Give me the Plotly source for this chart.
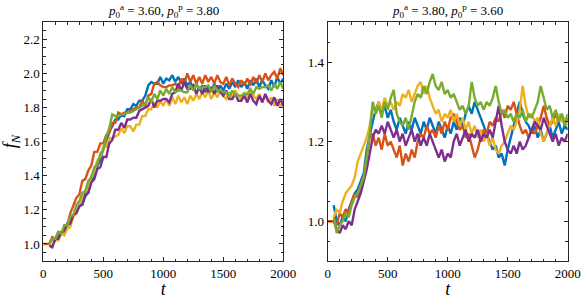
import plotly.graph_objects as go

# time grid (t = 0, then 50..2000 step 25)
t = [0] + list(range(50, 2001, 25))

series_names = ["run 1", "run 2", "run 3", "run 4", "run 5"]
colors = ["#0072BD", "#D95319", "#EDB120", "#7E2F8E", "#77AC30"]

# Left panel: p0a = 3.60, p0p = 3.80
left_blue = [None,
    1.00, 1.03, 1.02, 1.05, 1.07, 1.07, 1.11, 1.12, 1.17, 1.18,
    1.23, 1.23, 1.28, 1.30, 1.37, 1.39, 1.46, 1.49, 1.56, 1.59,
    1.66, 1.69, 1.73, 1.73, 1.76, 1.75, 1.79, 1.79, 1.82, 1.81,
    1.84, 1.84, 1.87, 1.93, 1.95, 1.94, 1.94, 1.98, 1.94, 1.97,
    1.96, 1.99, 1.95, 1.98, 1.94, 1.97, 1.93, 1.95, 1.91, 1.94,
    1.90, 1.93, 1.89, 1.92, 1.90, 1.94, 1.89, 1.93, 1.90, 1.94,
    1.91, 1.95, 1.92, 1.96, 1.92, 1.95, 1.91, 1.96, 1.93, 1.97,
    1.92, 1.96, 1.93, 1.91, 1.96, 1.92, 1.98, 1.94, 1.97]
left_orange = [1.00,
    1.00, 1.04, 1.03, 1.07, 1.06, 1.10, 1.11, 1.18, 1.22, 1.27,
    1.29, 1.37, 1.38, 1.43, 1.46, 1.54, 1.54, 1.59, 1.59, 1.64,
    1.65, 1.71, 1.71, 1.77, 1.76, 1.77, 1.77, 1.78, 1.79, 1.80,
    1.80, 1.84, 1.81, 1.87, 1.88, 1.94, 1.95, 1.93, 1.92, 1.92,
    1.93, 1.93, 1.94, 1.92, 1.97, 1.94, 2.00, 1.95, 1.99, 1.94,
    1.98, 1.94, 1.99, 1.95, 1.98, 1.94, 1.99, 1.95, 1.94, 1.98,
    1.93, 1.97, 1.94, 1.92, 1.96, 1.93, 1.97, 1.93, 1.98, 1.94,
    1.99, 1.95, 2.00, 1.96, 1.99, 2.01, 1.97, 2.03, 1.99]
left_yellow = [None,
    1.00, 0.99, 1.03, 1.02, 1.06, 1.05, 1.09, 1.10, 1.16, 1.18,
    1.24, 1.26, 1.31, 1.33, 1.40, 1.42, 1.49, 1.51, 1.57, 1.57,
    1.62, 1.62, 1.63, 1.64, 1.68, 1.65, 1.69, 1.69, 1.66, 1.70,
    1.70, 1.75, 1.75, 1.79, 1.79, 1.83, 1.80, 1.84, 1.81, 1.85,
    1.81, 1.86, 1.82, 1.87, 1.83, 1.86, 1.82, 1.87, 1.84, 1.88,
    1.85, 1.89, 1.86, 1.90, 1.85, 1.89, 1.86, 1.90, 1.87, 1.85,
    1.89, 1.86, 1.90, 1.87, 1.85, 1.89, 1.86, 1.90, 1.87, 1.85,
    1.88, 1.84, 1.87, 1.83, 1.86, 1.81, 1.85, 1.80, 1.84]
left_purple = [None,
    0.99, 0.98, 1.03, 1.03, 1.07, 1.08, 1.12, 1.12, 1.17, 1.18,
    1.22, 1.23, 1.29, 1.30, 1.36, 1.38, 1.44, 1.45, 1.51, 1.51,
    1.59, 1.61, 1.67, 1.67, 1.71, 1.68, 1.73, 1.73, 1.74, 1.74,
    1.78, 1.79, 1.80, 1.81, 1.85, 1.80, 1.84, 1.84, 1.85, 1.85,
    1.83, 1.88, 1.89, 1.94, 1.90, 1.95, 1.91, 1.91, 1.93, 1.88,
    1.92, 1.88, 1.93, 1.89, 1.92, 1.88, 1.93, 1.89, 1.87, 1.90,
    1.85, 1.85, 1.88, 1.84, 1.84, 1.87, 1.83, 1.88, 1.84, 1.82,
    1.87, 1.83, 1.88, 1.84, 1.82, 1.86, 1.81, 1.85, 1.81]
left_green = [None,
    1.00, 1.03, 1.03, 1.07, 1.06, 1.11, 1.11, 1.16, 1.17, 1.23,
    1.25, 1.30, 1.31, 1.37, 1.39, 1.45, 1.47, 1.53, 1.55, 1.63,
    1.68, 1.76, 1.75, 1.75, 1.76, 1.76, 1.77, 1.77, 1.78, 1.79,
    1.80, 1.81, 1.82, 1.86, 1.83, 1.88, 1.85, 1.90, 1.87, 1.91,
    1.88, 1.92, 1.89, 1.90, 1.90, 1.89, 1.89, 1.93, 1.90, 1.94,
    1.91, 1.92, 1.92, 1.93, 1.89, 1.93, 1.90, 1.90, 1.89, 1.89,
    1.86, 1.90, 1.87, 1.87, 1.87, 1.88, 1.88, 1.91, 1.88, 1.92,
    1.91, 1.92, 1.92, 1.93, 1.90, 1.94, 1.91, 1.95, 1.91]

# Right panel: p0a = 3.80, p0p = 3.60
right_blue = [None,
    1.04, 1.00, 0.99, 1.01, 1.00, 1.03, 1.05, 1.07, 1.08, 1.10,
    1.12, 1.18, 1.22, 1.25, 1.28, 1.30, 1.27, 1.29, 1.26, 1.28,
    1.25, 1.23, 1.26, 1.24, 1.22, 1.25, 1.23, 1.26, 1.24, 1.22,
    1.25, 1.23, 1.26, 1.24, 1.22, 1.25, 1.23, 1.21, 1.24, 1.22,
    1.25, 1.23, 1.26, 1.24, 1.27, 1.29, 1.27, 1.30, 1.28, 1.26,
    1.24, 1.22, 1.20, 1.18, 1.19, 1.16, 1.17, 1.14, 1.18, 1.21,
    1.24, 1.27, 1.30, 1.27, 1.25, 1.24, 1.22, 1.24, 1.21, 1.23,
    1.20, 1.22, 1.24, 1.21, 1.23, 1.25, 1.22, 1.24, 1.23]
right_orange = [1.00,
    1.00, 0.99, 1.02, 1.01, 1.03, 1.02, 1.05, 1.07, 1.06, 1.09,
    1.11, 1.16, 1.21, 1.22, 1.19, 1.21, 1.18, 1.22, 1.19, 1.20,
    1.18, 1.16, 1.19, 1.14, 1.17, 1.15, 1.18, 1.16, 1.20, 1.22,
    1.21, 1.24, 1.22, 1.23, 1.21, 1.24, 1.22, 1.25, 1.23, 1.26,
    1.27, 1.25, 1.23, 1.24, 1.21, 1.22, 1.19, 1.16, 1.18, 1.21,
    1.23, 1.22, 1.25, 1.24, 1.26, 1.25, 1.28, 1.26, 1.29, 1.28,
    1.30, 1.27, 1.24, 1.22, 1.23, 1.21, 1.23, 1.22, 1.24, 1.26,
    1.29, 1.26, 1.24, 1.25, 1.27, 1.25, 1.27, 1.24, 1.26]
right_yellow = [None,
    1.01, 1.03, 1.02, 1.05, 1.07, 1.08, 1.09, 1.11, 1.15, 1.17,
    1.19, 1.21, 1.24, 1.29, 1.27, 1.30, 1.28, 1.31, 1.29, 1.30,
    1.28, 1.30, 1.29, 1.32, 1.31, 1.33, 1.30, 1.32, 1.34, 1.35,
    1.32, 1.34, 1.31, 1.29, 1.27, 1.28, 1.25, 1.27, 1.26, 1.28,
    1.25, 1.27, 1.24, 1.26, 1.23, 1.25, 1.22, 1.24, 1.21, 1.23,
    1.20, 1.22, 1.19, 1.21, 1.18, 1.17, 1.19, 1.20, 1.22, 1.24,
    1.23, 1.25, 1.28, 1.34, 1.29, 1.26, 1.27, 1.25, 1.26, 1.22,
    1.20, 1.22, 1.24, 1.26, 1.24, 1.27, 1.25, 1.26, 1.24]
right_purple = [None,
    1.00, 0.98, 0.97, 0.99, 0.98, 1.00, 0.99, 1.03, 1.05, 1.07,
    1.10, 1.13, 1.17, 1.21, 1.23, 1.22, 1.24, 1.22, 1.25, 1.23,
    1.21, 1.23, 1.20, 1.22, 1.19, 1.21, 1.23, 1.20, 1.22, 1.19,
    1.21, 1.19, 1.22, 1.20, 1.18, 1.16, 1.18, 1.15, 1.17, 1.16,
    1.20, 1.22, 1.19, 1.21, 1.23, 1.20, 1.22, 1.21, 1.23, 1.20,
    1.22, 1.21, 1.23, 1.21, 1.25, 1.29, 1.24, 1.20, 1.18, 1.17,
    1.19, 1.17, 1.20, 1.18, 1.19, 1.21, 1.23, 1.25, 1.24, 1.23,
    1.26, 1.24, 1.22, 1.20, 1.22, 1.19, 1.21, 1.20, 1.22]
right_green = [None,
    1.01, 0.97, 0.99, 1.00, 1.02, 1.01, 1.04, 1.06, 1.07, 1.09,
    1.11, 1.16, 1.22, 1.30, 1.27, 1.29, 1.26, 1.30, 1.28, 1.31,
    1.33, 1.27, 1.25, 1.24, 1.26, 1.23, 1.27, 1.30, 1.32, 1.31,
    1.34, 1.32, 1.35, 1.37, 1.34, 1.33, 1.35, 1.32, 1.33, 1.31,
    1.32, 1.30, 1.28, 1.29, 1.27, 1.29, 1.35, 1.31, 1.29, 1.30,
    1.28, 1.30, 1.29, 1.31, 1.34, 1.30, 1.27, 1.28, 1.26, 1.27,
    1.25, 1.27, 1.26, 1.28, 1.25, 1.27, 1.26, 1.28, 1.30, 1.34,
    1.31, 1.28, 1.29, 1.26, 1.28, 1.25, 1.27, 1.24, 1.27]

left_series = [left_blue, left_orange, left_yellow, left_purple, left_green]
right_series = [right_blue, right_orange, right_yellow, right_purple, right_green]

titles = ["<i>p</i><sub>0</sub><sup>a</sup> = 3.60, <i>p</i><sub>0</sub><sup>p</sup> = 3.80",
          "<i>p</i><sub>0</sub><sup>a</sup> = 3.80, <i>p</i><sub>0</sub><sup>p</sup> = 3.60"]
x_ticks = [0, 500, 1000, 1500, 2000]
left_yticks = [1.0, 1.2, 1.4, 1.6, 1.8, 2.0, 2.2]
right_yticks = [1.0, 1.2, 1.4]

W, H = 581, 299
FONT = "Liberation Serif, Times New Roman, serif"
AX = "#262626"
LW = 2.4

fig = go.Figure()
for ser, c, n in zip(left_series, colors, series_names):
    fig.add_trace(go.Scatter(x=t, y=ser, mode="lines", line=dict(color=c, width=LW),
                             name=n, xaxis="x", yaxis="y", showlegend=False))
for ser, c, n in zip(right_series, colors, series_names):
    fig.add_trace(go.Scatter(x=t, y=ser, mode="lines", line=dict(color=c, width=LW),
                             name=n, xaxis="x2", yaxis="y2", showlegend=False))

def xax(domain, anchor):
    return dict(domain=domain, anchor=anchor, range=[0, 2000], tickvals=x_ticks,
                automargin=False,
                ticks="inside", ticklen=4, tickcolor=AX, showline=True, linecolor=AX,
                linewidth=1, mirror="ticks", showgrid=False, zeroline=False,
                tickfont=dict(family=FONT, size=13, color="#000"),
                minor=dict(dtick=100, ticks="inside", ticklen=2.5, tickcolor=AX, showgrid=False),
                title=dict(text="<i>t</i>", font=dict(family=FONT, size=18, color="#000"), standoff=0))

def yax(domain, anchor, rng, tv, title=None):
    d = dict(domain=domain, anchor=anchor, range=rng, tickvals=tv, tickformat=".1f",
             automargin=False,
             ticks="inside", ticklen=4, tickcolor=AX, showline=True, linecolor=AX,
             linewidth=1, mirror="ticks", showgrid=False, zeroline=False,
             tickfont=dict(family=FONT, size=13, color="#000"),
             minor=dict(dtick=0.05, ticks="inside", ticklen=2.5, tickcolor=AX, showgrid=False))
    if title:
        d["title"] = dict(text=title, font=dict(family=FONT, size=18, color="#000"), standoff=4)
    return d

ydom = [1 - 261 / H, 1 - 22.3 / H]
fig.update_layout(
    width=W, height=H, margin=dict(l=0, r=0, t=0, b=0, autoexpand=False),
    paper_bgcolor="white", plot_bgcolor="white",
    xaxis=xax([43.3 / W, 283.3 / W], "y"),
    yaxis=yax(ydom, "x", [0.9, 2.3], left_yticks, "<i>f</i><sub><i>N</i></sub>"),
    xaxis2=xax([327.7 / W, 567.7 / W], "y2"),
    yaxis2=yax(ydom, "x2", [0.9, 1.5], right_yticks),
    annotations=[
        dict(text=titles[0], x=(43.3 + 283.3) / 2 / W, y=1 - 11 / H, xref="paper", yref="paper",
             showarrow=False, font=dict(family=FONT, size=13, color="#000"), xanchor="center", yanchor="middle"),
        dict(text=titles[1], x=(327.7 + 567.7) / 2 / W, y=1 - 11 / H, xref="paper", yref="paper",
             showarrow=False, font=dict(family=FONT, size=13, color="#000"), xanchor="center", yanchor="middle"),
    ],
)

fig.write_html("out.html", config={"displayModeBar": False},
               post_script="document.body.style.margin='0';document.body.style.overflow='hidden';")
